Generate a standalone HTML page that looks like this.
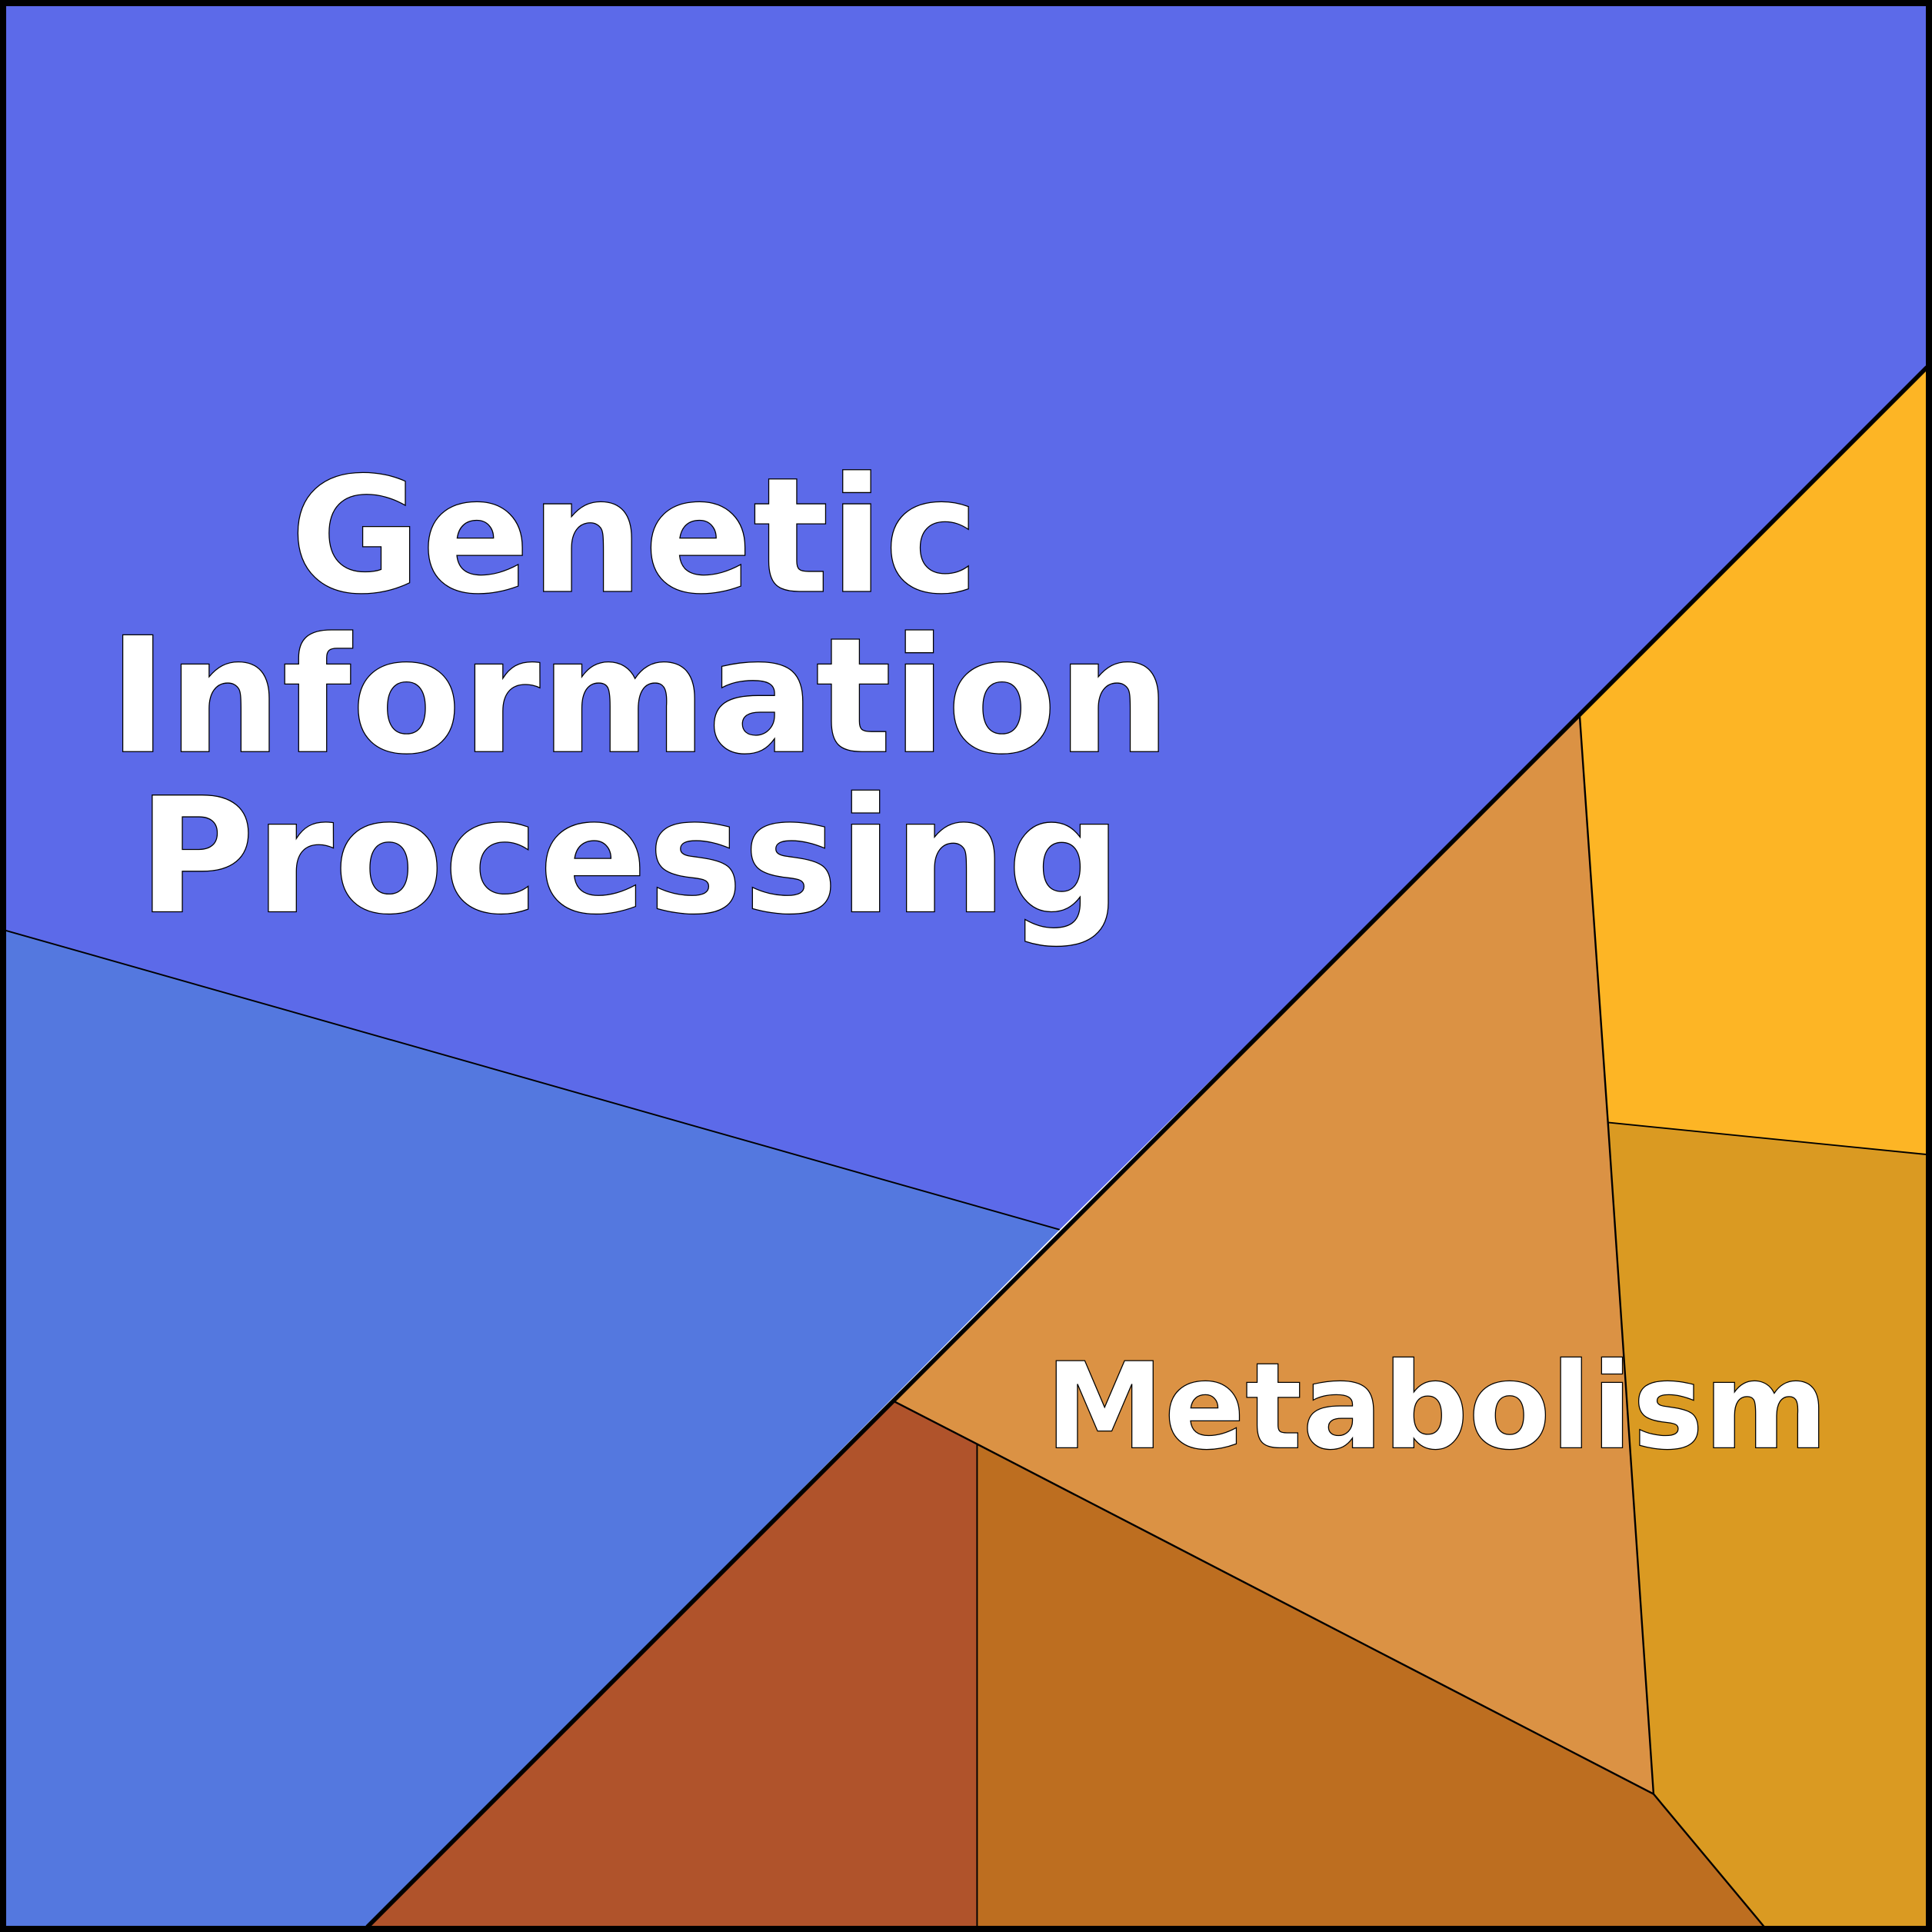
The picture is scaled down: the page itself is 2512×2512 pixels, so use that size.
<!DOCTYPE html>
<html><head><meta charset="utf-8">
<style>
html,body{margin:0;padding:0;background:#fff;}
svg{display:block;}
text{font-family:"DejaVu Sans","Liberation Sans",sans-serif;font-weight:bold;fill:#fff;stroke:#000;stroke-width:0.8;text-anchor:middle;}
</style></head>
<body>
<svg width="2512" height="2512" viewBox="0 0 1568 1568" xmlns="http://www.w3.org/2000/svg">
<polygon points="0,0 1568,0 1568,298 860,998 4,755 0,755" fill="#5c6ae9"/>
<polygon points="0,755 4,755 860,998 298,1564 0,1568" fill="#5478df"/>
<polygon points="1282,580 1564,298 1564,937 1305,911" fill="#fdb525"/>
<polygon points="1305,911 1564,937 1564,1568 1432,1564 1342,1456" fill="#da9a22"/>
<polygon points="1282,580 725,1137 793,1172 1342,1456 1305,911" fill="#db9244"/>
<polygon points="725,1137 793,1172 793,1564 298,1564" fill="#b0532b"/>
<polygon points="793,1172 1342,1456 1432,1564 793,1564" fill="#bd6e20"/>
<g stroke="#000" fill="none">
<line x1="4" y1="755" x2="860" y2="998" stroke-width="1.2"/>
<polyline points="1282,580 1305,911 1342,1456 1432,1564" stroke-width="1.5"/>
<line x1="1305" y1="911" x2="1564" y2="937" stroke-width="1.2"/>
<polyline points="725,1137 793,1172 1342,1456" stroke-width="1.5"/>
<line x1="793" y1="1172" x2="793" y2="1564" stroke-width="1.2"/>
<line x1="1564" y1="298" x2="298" y2="1564" stroke-width="3.5"/>
<rect x="2.5" y="2.5" width="1563" height="1563" stroke-width="5"/>
</g>
<text x="515" y="480" font-size="130">Genetic</text>
<text x="519" y="610" font-size="130">Information</text>
<text x="511" y="740" font-size="130">Processing</text>
<text x="1166" y="1175" font-size="97">Metabolism</text>
</svg>
</body></html>
